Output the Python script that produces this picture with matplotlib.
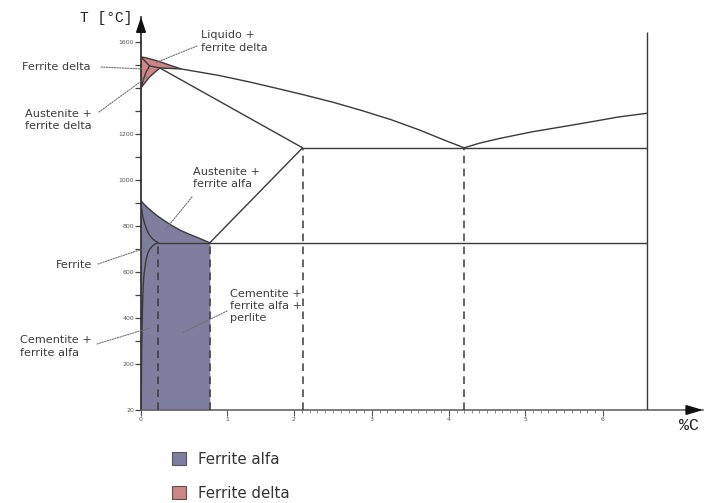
import numpy as np
import matplotlib
matplotlib.use('Agg')
import matplotlib.pyplot as plt
from matplotlib.patches import Patch

# ---------------- data ----------------
# x: carbon content [%C], y: temperature [°C]
x_ticks = [0, 1, 2, 3, 4, 5, 6]
x_tick_labels = ['0', '1', '2', '3', '4', '5', '6']
x_minor_ticks = [round(v, 1) for v in np.arange(2.1, 6.0, 0.1) if abs(v - round(v)) > 1e-6]
y_ticks = [20, 200, 300, 400, 500, 600, 700, 800, 900, 1000, 1100, 1200, 1300, 1400, 1500, 1600]
y_tick_labels = ['20', '200', '', '400', '', '600', '', '800', '', '1000', '', '1200', '', '', '', '1600']

# liquidus (iron side) down to the eutectic point
liquidus_x = [0.0, 0.05, 0.10, 0.16, 0.22, 0.29, 0.35, 0.41, 0.465, 0.9, 1.34, 1.75, 2.13, 2.5,
              2.85, 3.25, 3.62, 3.95, 4.2]
liquidus_t = [1535, 1532, 1527, 1521, 1514, 1505, 1497, 1490, 1483, 1455, 1426, 1398, 1370, 1338,
              1304, 1262, 1217, 1172, 1140]
# liquidus (cementite side)
liq_cem_x = [4.2, 4.4, 4.67, 5.1, 5.54, 5.9, 6.18, 6.4, 6.56]
liq_cem_t = [1140, 1160, 1181, 1210, 1235, 1256, 1273, 1283, 1290]
# delta ferrite solidus
delta_sol_x = [0.0, 0.10]
delta_sol_t = [1535, 1496]
# peritectic line
perit_x = [0.10, 0.22, 0.465]
perit_t = [1496, 1487, 1483]
# delta / (gamma + delta) boundary
delta_gam_x = [0.10, 0.06, 0.03, 0.0]
delta_gam_t = [1496, 1470, 1440, 1400]
# gamma boundary (gamma + delta / gamma)
gam_delta_x = [0.22, 0.16, 0.10, 0.05, 0.0]
gam_delta_t = [1487, 1468, 1448, 1425, 1400]
# austenite solidus
solidus_x = [0.22, 2.11]
solidus_t = [1487, 1140]
# Acm line
acm_x = [2.11, 0.8]
acm_t = [1140, 727]
# A3 line (austenite / austenite + alpha)
a3_x = [0.0, 0.05, 0.105, 0.18, 0.26, 0.35, 0.45, 0.55, 0.65, 0.73, 0.8]
a3_t = [910, 889, 870, 847, 826, 804, 783, 766, 751, 738, 727]
# alpha boundary (alpha / alpha + austenite)
alpha_x = [0.0, 0.005, 0.015, 0.03, 0.047, 0.07, 0.097, 0.14, 0.2]
alpha_t = [910, 885, 855, 828, 804, 781, 761, 742, 727]
# solvus of carbon in alpha ferrite
solvus_x = [0.2, 0.16, 0.124, 0.098, 0.078, 0.06, 0.047, 0.035, 0.027, 0.02, 0.015, 0.008, 0.004, 0.0]
solvus_t = [727, 721, 710, 697, 681, 655, 623, 590, 551, 480, 406, 261, 117, 20]
# isotherms
eutectic_x = [2.11, 6.56]
eutectic_t = 1140
eutectoid_x = [0.2, 6.56]
eutectoid_t = 727
# cementite composition line
cementite_x = 6.56
cementite_top = 1643
# dashed verticals
dashed_x = [0.2, 0.8, 2.11, 4.2]
dashed_top = [727, 727, 1140, 1140]
t_room = 20

# delta ferrite (red) polygon
delta_fill_x = [0.0, 0.05, 0.10, 0.16, 0.22, 0.29, 0.35, 0.41, 0.465, 0.22, 0.16, 0.10, 0.05, 0.0]
delta_fill_t = [1535, 1532, 1527, 1521, 1514, 1505, 1497, 1490, 1483, 1487, 1468, 1448, 1425, 1400]

labels = ['Liquido +\nferrite delta', 'Ferrite delta', 'Austenite +\nferrite delta',
          'Austenite +\nferrite alfa', 'Ferrite', 'Cementite +\nferrite alfa',
          'Cementite +\nferrite alfa +\nperlite']
label_targets_x = [0.163, 0.006, 0.07, 0.28, 0.047, 0.105, 0.477]
label_targets_t = [1509, 1483, 1448, 783, 704, 357, 335]
legend_labels = ['Ferrite alfa', 'Ferrite delta']

# ---------------- layout ----------------
W, H = 710, 503
fig = plt.figure(figsize=(W / 100, H / 100), dpi=100)


def fp(px, py):
    """pixel (from top-left) -> figure fraction"""
    return (px / W, 1 - py / H)


def piecewise(kd, kp):
    kd = np.asarray(kd, float)
    kp = np.asarray(kp, float)

    def f(v, a, b):
        v = np.asarray(v, float)
        out = np.interp(v, a, b)
        out = np.where(v < a[0], b[0] + (v - a[0]) * (b[1] - b[0]) / (a[1] - a[0]), out)
        out = np.where(v > a[-1], b[-1] + (v - a[-1]) * (b[-1] - b[-2]) / (a[-1] - a[-2]), out)
        return out

    return (lambda v: f(v, kd, kp)), (lambda p: f(p, kp, kd))


X0, Y0 = 141, 410      # pixel of axis origin
XTIP, YTIP = 703, 17   # arrow tips
xf, xi = piecewise([0, 1, 2, 3, 4, 5, 6], [0, 86, 153, 231, 308, 384, 462])
yf, yi = piecewise([20, 200, 1700], [0, 46, 391])

ax = fig.add_axes([X0 / W, 1 - Y0 / H, (XTIP - X0) / W, (Y0 - YTIP) / H])
ax.set_xscale('function', functions=(xf, xi))
ax.set_yscale('function', functions=(yf, yi))
ax.set_xlim(0, float(xi(XTIP - X0)))
ax.set_ylim(t_room, float(yi(Y0 - YTIP)))
ax.patch.set_alpha(0)

LC = '#3a3a3a'
LW = 1.0
purple = '#7e7e9e'
red = '#cd8585'

# fills
ax.fill_between(a3_x, t_room, a3_t, color=purple, lw=0, zorder=1)
ax.fill(delta_fill_x, delta_fill_t, color=red, lw=0, zorder=1)

# lines
for xs, ts in [(liquidus_x, liquidus_t), (liq_cem_x, liq_cem_t), (delta_sol_x, delta_sol_t),
               (perit_x, perit_t), (delta_gam_x, delta_gam_t), (gam_delta_x, gam_delta_t),
               (solidus_x, solidus_t), (acm_x, acm_t), (a3_x, a3_t), (alpha_x, alpha_t),
               (solvus_x, solvus_t)]:
    ax.plot(xs, ts, color=LC, lw=LW, solid_capstyle='round', solid_joinstyle='round', zorder=3)
ax.hlines(eutectic_t, *eutectic_x, color=LC, lw=LW, zorder=3)
ax.hlines(eutectoid_t, *eutectoid_x, color=LC, lw=LW, zorder=3)
ax.vlines(cementite_x, t_room, cementite_top, color=LC, lw=LW, zorder=3)
for x, top in zip(dashed_x, dashed_top):
    ax.vlines(x, t_room, top, color=LC, lw=1.1, linestyles=(0, (5, 3.5)), zorder=3)

# axes styling
for s in ['top', 'right']:
    ax.spines[s].set_visible(False)
ax.spines['left'].set_color('#222222')
ax.spines['left'].set_linewidth(1.2)
ax.spines['bottom'].set_color('#666666')
ax.spines['bottom'].set_linewidth(1.2)
ax.annotate('', xy=(0, 1), xytext=(0, 0.965), xycoords='axes fraction',
            arrowprops=dict(arrowstyle='-|>,head_length=0.9,head_width=0.3', color='#111111', lw=1.2,
                            shrinkA=0, shrinkB=0))
ax.annotate('', xy=(1, 0), xytext=(0.97, 0), xycoords='axes fraction',
            arrowprops=dict(arrowstyle='-|>,head_length=1.0,head_width=0.3', color='#111111', lw=1.2,
                            shrinkA=0, shrinkB=0))

ax.set_xticks(x_ticks)
ax.set_xticklabels(x_tick_labels)
ax.set_xticks(x_minor_ticks, minor=True)
ax.set_yticks(y_ticks)
ax.set_yticklabels(y_tick_labels)
ax.tick_params(axis='x', which='major', length=4, width=0.8, color='#555555', labelsize=4.5,
               labelcolor='#555555', pad=1)
ax.tick_params(axis='x', which='minor', length=2.5, width=0.6, color='#777777')
ax.tick_params(axis='y', which='major', length=4.5, width=0.9, color='#444444', labelsize=4.5,
               labelcolor='#555555', pad=0.5)
ax.tick_params(axis='y', which='minor', left=False)

# axis titles
fig.text(*fp(106, 18), 'T [°C]', fontsize=10.5, family='Liberation Mono', ha='center', va='center',
         color='#222222')
fig.text(*fp(689, 425), '%C', fontsize=12, family='Liberation Mono', ha='center', va='center',
         color='#222222')

# region labels with dotted leaders
TC = '#3c3c3c'
text_pos = [(201, 41.5), (22, 67), (25, 120), (193, 178), (56, 265), (20, 346.5), (230, 306)]
leader_start = [(197, 46), (101, 67), (99, 112), (192, 197), (98, 264), (97, 344), (227, 311)]
for lab, (tx, ty), (sx, sy), gx, gt in zip(labels, text_pos, leader_start, label_targets_x, label_targets_t):
    fig.text(*fp(tx, ty), lab, fontsize=8.1, ha='left', va='center', color=TC, linespacing=1.3)
    ax.annotate('', xy=(gx, gt), xycoords='data', xytext=fp(sx, sy), textcoords='figure fraction',
                arrowprops=dict(arrowstyle='-', color='#707070', lw=0.8, linestyle=(0, (1.2, 1.2)),
                                shrinkA=0, shrinkB=0), annotation_clip=False, zorder=4)

# legend
handles = [Patch(facecolor=purple, edgecolor='#555555', lw=0.8),
           Patch(facecolor=red, edgecolor='#555555', lw=0.8)]
fig.legend(handles, legend_labels, loc='upper left', bbox_to_anchor=fp(172, 452), frameon=False,
           fontsize=10.8, labelcolor='#333333', handlelength=0.95, handleheight=0.95,
           handletextpad=0.75, labelspacing=1.25, borderaxespad=0, borderpad=0)

fig.savefig('out.png', dpi=100)
